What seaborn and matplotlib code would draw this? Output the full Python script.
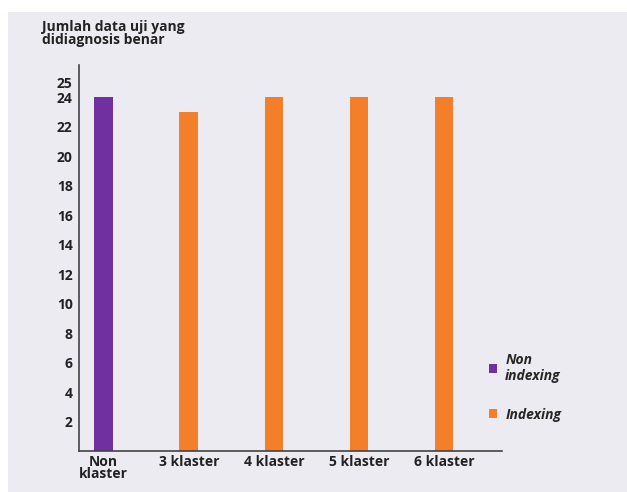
import matplotlib.pyplot as plt
import matplotlib
import seaborn as sns
import pandas as pd
from matplotlib.patches import Rectangle, Patch

categories = ['Non\nklaster', '3 klaster', '4 klaster', '5 klaster', '6 klaster']
values = [24, 23, 24, 24, 24]
groups = ['Non\nindexing', 'Indexing', 'Indexing', 'Indexing', 'Indexing']
yticks = [2, 4, 6, 8, 10, 12, 14, 16, 18, 20, 22, 24, 25]

palette = {'Non\nindexing': '#7030a0', 'Indexing': '#f47f2a'}
bg = '#ecebf1'

sns.set_style('white')
plt.rcParams['font.family'] = ['Open Sans', 'DejaVu Sans']

df = pd.DataFrame({'kat': categories, 'nilai': values, 'grup': groups})

fig = plt.figure(figsize=[6.27, 4.92], dpi=100)
fig.patch.set_facecolor('white')
fig.patches.append(Rectangle((8 / 627, 0), 1, 1 - 12 / 492, transform=fig.transFigure,
                             facecolor=bg, edgecolor='none', zorder=-10))

ax = fig.add_axes([79 / 627, 41 / 492, 423 / 627, 386 / 492])
ax.set_facecolor(bg)
sns.barplot(data=df, x='kat', y='nilai', hue='grup', palette=palette, dodge=False,
            width=0.22, saturation=1, linewidth=0, legend=False, ax=ax)

ax.set_xlim(-0.29, 4.68)
ax.set_ylim(0, 26.2)
ax.set(xlabel=None, ylabel=None)
ax.set_yticks(yticks)
ax.set_yticklabels([str(t) for t in yticks], fontsize=10, fontweight='bold', color='#222222')
ax.set_xticks(range(len(categories)))
ax.set_xticklabels(categories, fontsize=10, fontweight='bold', color='#222222', linespacing=0.8)
ax.tick_params(axis='x', length=0, pad=3)
ax.tick_params(axis='y', direction='inout', length=5, width=0.8, color='#555555', pad=2)

for s in ['top', 'right']:
    ax.spines[s].set_visible(False)
for s in ['left', 'bottom']:
    ax.spines[s].set_color('#444444')
    ax.spines[s].set_linewidth(1.2)

fig.text(42 / 627, 1 - 20 / 492, 'Jumlah data uji yang\ndidiagnosis benar', ha='left', va='top',
         fontsize=10, fontweight='bold', color='#222222', linespacing=0.95)

handles = [Patch(facecolor=palette[g], edgecolor='none') for g in palette]
leg = fig.legend(handles, list(palette), loc='upper left', bbox_to_anchor=(476 / 627, 1 - 340 / 492),
                 frameon=False, handlelength=0.6, handleheight=0.6, handletextpad=0.6,
                 labelspacing=1.8, prop={'style': 'italic', 'weight': 'bold', 'size': 10})

plt.savefig('out.png', dpi=100)
plt.close(fig)
